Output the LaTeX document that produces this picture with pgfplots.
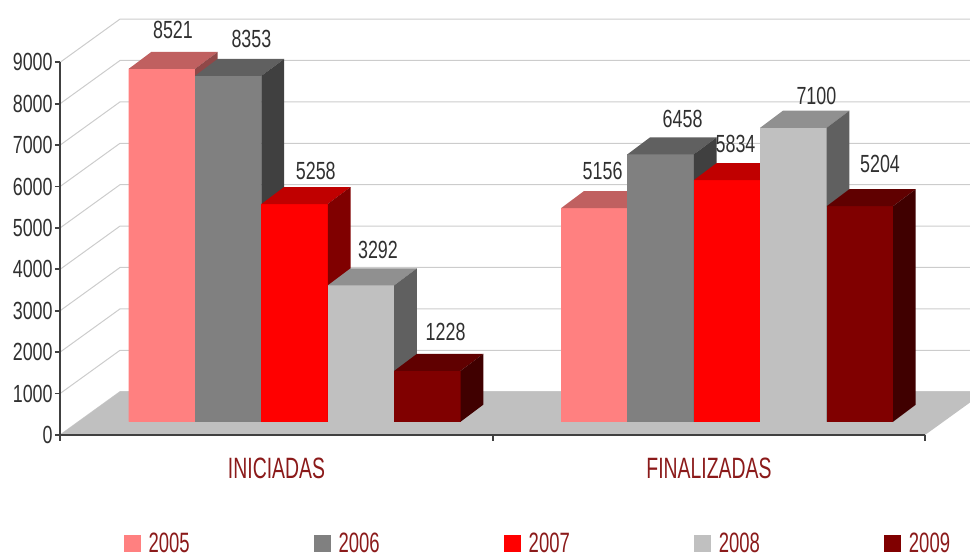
\documentclass[border=0pt]{standalone}
\usepackage{fontspec}
\setmainfont{Liberation Sans}[FakeStretch=0.72]
\newfontfamily\catfont{Liberation Sans}[FakeStretch=0.66]
\usepackage{pgfplots}
\usepackage{pgfplotstable}
\pgfplotsset{compat=1.18}

\definecolor{c05}{HTML}{FF8080}\definecolor{t05}{HTML}{C06060}\definecolor{s05}{HTML}{904848}
\definecolor{c06}{HTML}{808080}\definecolor{t06}{HTML}{606060}\definecolor{s06}{HTML}{404040}
\definecolor{c07}{HTML}{FF0000}\definecolor{t07}{HTML}{C00000}\definecolor{s07}{HTML}{800000}
\definecolor{c08}{HTML}{C0C0C0}\definecolor{t08}{HTML}{909090}\definecolor{s08}{HTML}{606060}
\definecolor{c09}{HTML}{800000}\definecolor{t09}{HTML}{600000}\definecolor{s09}{HTML}{400000}
\definecolor{floorc}{HTML}{C0C0C0}
\definecolor{gridc}{HTML}{CCCCCC}
\definecolor{axc}{HTML}{404040}
\definecolor{darkred}{HTML}{8B1A1A}
\definecolor{txt}{HTML}{303030}

% whole 3D bar (front, top and side faces), drawn at the data point (front-top-centre);
% its height is the data value times the y unit
\newcommand\defbar[4]{%
  \pgfdeclareplotmark{#1}{%
    \pgfpathrectanglecorners{\pgfpoint{-16.6pt}{0pt}}{\pgfpoint{16.6pt}{-\val*0.020705pt}}%
    \pgfsetfillcolor{#2}\pgfusepath{fill}%
    \pgfpathmoveto{\pgfpoint{-16.6pt}{0pt}}%
    \pgfpathlineto{\pgfpoint{16.6pt}{0pt}}%
    \pgfpathlineto{\pgfpoint{27.95pt}{8.5pt}}%
    \pgfpathlineto{\pgfpoint{-5.25pt}{8.5pt}}%
    \pgfpathclose
    \pgfsetfillcolor{#3}\pgfusepath{fill}%
    \pgfpathmoveto{\pgfpoint{16.6pt}{0pt}}%
    \pgfpathlineto{\pgfpoint{27.95pt}{8.5pt}}%
    \pgfpathlineto{\pgfpoint{27.95pt}{8.5pt-\val*0.020705pt}}%
    \pgfpathlineto{\pgfpoint{16.6pt}{-\val*0.020705pt}}%
    \pgfpathclose
    \pgfsetfillcolor{#4}\pgfusepath{fill}%
  }}
\defbar{b05}{c05}{t05}{s05}
\defbar{b06}{c06}{t06}{s06}
\defbar{b07}{c07}{t07}{s07}
\defbar{b08}{c08}{t08}{s08}
\defbar{b09}{c09}{t09}{s09}

\pgfplotstableread{
x v lx ly
143.4 8521 11.2 30
575.8 5156 8.4 28
}\tA
\pgfplotstableread{
x v lx ly
209.8 8353 23.2 28
642.2 6458 22 26
}\tB
\pgfplotstableread{
x v lx ly
276.2 5258 21.2 24
708.6 5834 8.5 27
}\tC
\pgfplotstableread{
x v lx ly
342.6 3292 17 26
775.0 7100 23 23
}\tD
\pgfplotstableread{
x v lx ly
409.0 1228 18.2 30
841.4 5204 20.2 33
}\tE

\pgfplotsset{
  b3d/.style n args={2}{
    ybar, bar width=33.2pt, bar shift=0pt, fill=#1, draw=none,
    scatter, mark=#2, forget plot,
    visualization depends on={\thisrow{v}\as\val},
    visualization depends on={\thisrow{lx}\as\lx},
    visualization depends on={\thisrow{ly}\as\ly},
    nodes near coords,
    every node near coord/.append style={anchor=south, inner sep=0pt,
      xshift=\lx*0.5pt, yshift=\ly*0.5pt,
      font=\fontsize{12.4}{13}\selectfont, text=txt},
  },
}

\begin{document}
\begin{tikzpicture}
% ---------- frame: walls, floor, axes ----------
\begin{axis}[
  at={(30pt,60pt)}, anchor=south west,
  scale only axis, x=0.5pt, y=0.020705pt,
  xmin=60, xmax=925, ymin=0, ymax=9000,
  axis x line*=bottom, axis y line*=left,
  axis line style={axc, line width=0.9pt, -},
  axis on top, clip=false,
  ytick={0,1000,...,9000},
  scaled y ticks=false,
  /pgf/number format/1000 sep={},
  /pgf/number format/assume math mode=true,
  tick align=outside,
  major tick length=2.5pt,
  y tick style={axc, line width=0.9pt},
  yticklabel style={font=\fontsize{12.4}{13}\selectfont, text=txt, inner sep=0pt, anchor=east, xshift=-1pt},
  xtick={276.5,709},
  xticklabels={INICIADAS,FINALIZADAS},
  x tick style={draw=none},
  xticklabel style={font=\catfont\fontsize{14.7}{15}\selectfont, text=darkred, inner sep=0pt, anchor=north, yshift=-9pt},
]
\pgfplotsinvokeforeach{0,1000,2000,3000,4000,5000,6000,7000,8000,9000}{
  \draw[gridc, line width=0.5pt] (axis cs:60,#1) -- ++(30pt,21.65pt) -- ++(432.5pt,0pt);
}
\fill[floorc] (axis cs:60,0) -- (axis cs:925,0) -- ++(30pt,21.65pt) -- ++(-432.5pt,0pt) -- cycle;
\draw[axc, line width=0.9pt] (axis cs:60,0) -- ++(0pt,-3pt);
\draw[axc, line width=0.9pt] (axis cs:493,0) -- ++(0pt,-3pt);
\draw[axc, line width=0.9pt] (axis cs:925,0) -- ++(0pt,-3pt);
\end{axis}

% ---------- bars (on the mid-depth plane) ----------
\begin{axis}[
  at={(39.2pt,66.65pt)}, anchor=south west,
  scale only axis, x=0.5pt, y=0.020705pt,
  xmin=60, xmax=925, ymin=0, ymax=9000,
  hide axis, clip=false,
  /pgf/number format/1000 sep={},
  /pgf/number format/assume math mode=true,
  legend columns=5,
  legend image code/.code={\fill[#1] (0pt,-4.25pt) rectangle (8.5pt,4.25pt); \path (12.5pt,0pt);},
  legend style={draw=none, fill=none, inner sep=0pt, at={(0.0517,-0.3590)}, anchor=south west,
    font=\catfont\fontsize{14}{15}\selectfont, text=darkred,
    nodes={inner sep=0pt},
    /tikz/every even column/.append style={column sep=62pt}},
]
\addplot[b3d={c05}{b05}] table[x=x,y=v]{\tA};
\addplot[b3d={c06}{b06}] table[x=x,y=v]{\tB};
\addplot[b3d={c07}{b07}] table[x=x,y=v]{\tC};
\addplot[b3d={c08}{b08}] table[x=x,y=v]{\tD};
\addplot[b3d={c09}{b09}] table[x=x,y=v]{\tE};
\addlegendimage{fill=c05, draw=none}
\addlegendimage{fill=c06, draw=none}
\addlegendimage{fill=c07, draw=none}
\addlegendimage{fill=c08, draw=none}
\addlegendimage{fill=c09, draw=none}
\legend{2005,2006,2007,2008,2009}
\end{axis}
\pgfresetboundingbox
\path (0,0) rectangle (485pt,277.5pt);
\end{tikzpicture}
\end{document}
